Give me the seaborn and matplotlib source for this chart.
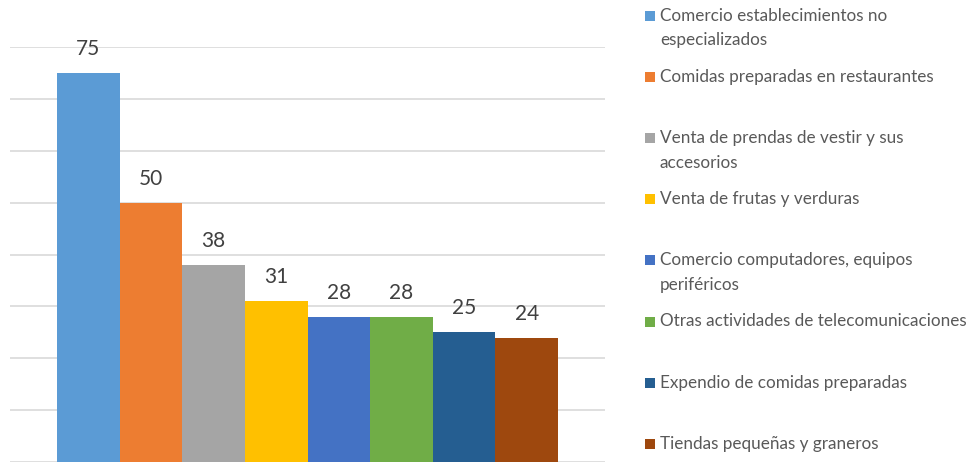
import matplotlib
matplotlib.use("Agg")
import matplotlib.pyplot as plt
from matplotlib.patches import Rectangle
import seaborn as sns

categorias = [
    "Comercio establecimientos no especializados",
    "Comidas preparadas en restaurantes",
    "Venta de prendas de vestir y sus accesorios",
    "Venta de frutas y verduras",
    "Comercio computadores, equipos periféricos",
    "Otras actividades de telecomunicaciones",
    "Expendio de comidas preparadas",
    "Tiendas pequeñas y graneros",
]
valores = [75, 50, 38, 31, 28, 28, 25, 24]
# etiquetas de la leyenda, cortadas como en el original
etiquetas = [
    "Comercio establecimientos no\nespecializados",
    "Comidas preparadas en restaurantes",
    "Venta de prendas de vestir y sus\naccesorios",
    "Venta de frutas y verduras",
    "Comercio computadores, equipos\nperiféricos",
    "Otras actividades de telecomunicaciones",
    "Expendio de comidas preparadas",
    "Tiendas pequeñas y graneros",
]
colores = ["#5B9BD5", "#ED7D31", "#A5A5A5", "#FFC000",
           "#4472C4", "#70AD47", "#255E91", "#9E480E"]

sns.set_style("white")
plt.rcParams["font.family"] = ["Lato", "DejaVu Sans"]

W, H = 974, 468
fig = plt.figure(figsize=(W / 100, H / 100), dpi=100)
ax = fig.add_axes([10 / W, (H - 462) / H, 595 / W, 415 / H])

sns.barplot(x=categorias, y=valores, hue=categorias, palette=colores,
            width=1, saturation=1, legend=False, linewidth=0, ax=ax)

for c in ax.containers:
    ax.bar_label(c, padding=10, fontsize=15, color="#404040")

ax.set_ylim(0, 80)
ax.set_xlim(-1.25, 8.25)
ax.set_yticks(range(0, 81, 10))
ax.yaxis.grid(True, color="#D9D9D9", linewidth=1.2)
ax.set_axisbelow(True)
ax.set_xticks([])
ax.tick_params(left=False, labelleft=False)
ax.set_xlabel("")
ax.set_ylabel("")
for s in ax.spines.values():
    s.set_visible(False)

# leyenda a la derecha, una casilla fija por entrada
for i, (lab, col) in enumerate(zip(etiquetas, colores)):
    yc = 16 + i * 61.1
    fig.add_artist(Rectangle((645 / W, 1 - (yc + 5) / H), 10 / W, 10 / H,
                             transform=fig.transFigure, color=col, lw=0))
    fig.text(660 / W, 1 - (yc - 8) / H, lab, ha="left", va="top",
             fontsize=12.3, color="#595959", linespacing=1.65)

fig.savefig("out.png", dpi=100)
